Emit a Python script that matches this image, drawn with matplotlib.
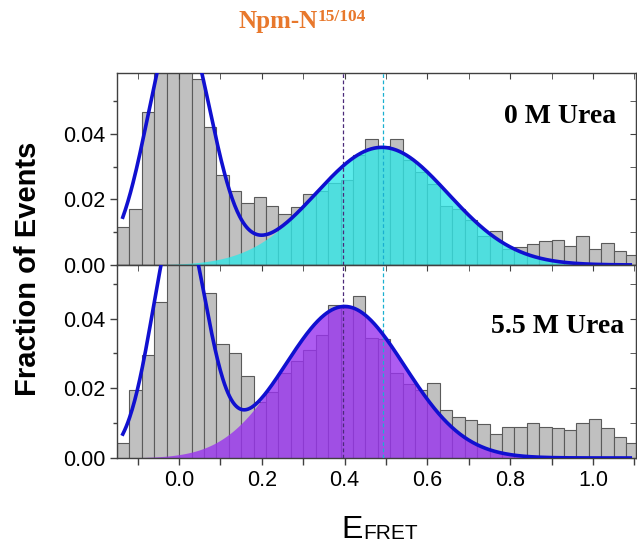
import numpy as np
import matplotlib
matplotlib.use("Agg")
import matplotlib.pyplot as plt
from matplotlib.ticker import MultipleLocator, FormatStrFormatter

plt.rcParams['font.family'] = ['Liberation Sans', 'DejaVu Sans']

# histogram bins (E_FRET), width 0.03
bin_width = 0.03
bin_left = np.round(np.arange(-0.15, 1.08 + 1e-9, bin_width), 3)

# fraction of events, 0 M urea
counts_0M = [0.0117, 0.0172, 0.0468, 0.064, 0.072, 0.068, 0.0569, 0.0422, 0.0275, 0.0226,
             0.0190, 0.0209, 0.0180, 0.0156, 0.0177, 0.0218, 0.0225, 0.0250, 0.0260, 0.0335,
             0.0385, 0.0362, 0.0385, 0.0319, 0.0284, 0.0246, 0.0179, 0.0172, 0.0138, 0.0089,
             0.0105, 0.0050, 0.0055, 0.0063, 0.0073, 0.0077, 0.0059, 0.0090, 0.0049, 0.0068,
             0.0043, 0.0029]

# fraction of events, 5.5 M urea
counts_55M = [0.0042, 0.0194, 0.0297, 0.0449, 0.066, 0.070, 0.060, 0.0475, 0.0326, 0.0300,
              0.0235, 0.0161, 0.0190, 0.0244, 0.0278, 0.0310, 0.0354, 0.0438, 0.0430, 0.0466,
              0.0345, 0.0341, 0.0244, 0.0211, 0.0194, 0.0216, 0.0137, 0.0117, 0.0108, 0.0097,
              0.0069, 0.0089, 0.0089, 0.0100, 0.0090, 0.0086, 0.0081, 0.0100, 0.0113, 0.0087,
              0.0061, 0.0042]

# two-gaussian fits: [donor-only peak, FRET peak]
fit_0M_centers = [0.0, 0.49]
fit_0M_widths = [0.075, 0.16]
fit_0M_heights = [0.0754, 0.0359]

fit_55M_centers = [0.0, 0.40]
fit_55M_widths = [0.063, 0.145]
fit_55M_heights = [0.070, 0.0435]

# mean E_FRET markers
mean_55M = 0.395
mean_0M = 0.493


def gauss(x, c, w, h):
    return h * np.exp(-(x - c) ** 2 / (2 * w ** 2))


fig = plt.figure(figsize=(6.37, 5.5), dpi=100)
ax_top = fig.add_axes([0.1837, 0.5182, 0.8148, 0.3485])
ax_bot = fig.add_axes([0.1837, 0.1673, 0.8148, 0.3509])

panels = [
    (ax_top, counts_0M, fit_0M_centers, fit_0M_widths, fit_0M_heights, '#33e6e6', 0.0585,
     '0 M Urea', 0.92, 0.0453),
    (ax_bot, counts_55M, fit_55M_centers, fit_55M_widths, fit_55M_heights, '#9933ee', 0.0554,
     '5.5 M Urea', 0.915, 0.0378),
]

xs = np.linspace(-0.136, 1.09, 600)

for ax, counts, cen, wid, hei, fcol, ymax, label, lx, ly in panels:
    ax.bar(bin_left, counts, width=bin_width, align='edge', color='#c0c0c0',
           edgecolor='#5a5a5a', linewidth=0.8, zorder=1)
    comp = gauss(xs, cen[1], wid[1], hei[1])
    ax.fill_between(xs, 0, comp, color=fcol, alpha=0.8, lw=0, zorder=2)
    total = gauss(xs, cen[0], wid[0], hei[0]) + comp
    ax.axvline(mean_55M, color='#4b2a7a', lw=0.9, ls=(0, (3, 2)), zorder=3)
    ax.axvline(mean_0M, color='#1ab0d0', lw=0.9, ls=(0, (3, 2)), zorder=3)
    ax.plot(xs, total, color='#1010d0', lw=2.6, zorder=4)

    ax.set_xlim(-0.15, 1.104)
    ax.set_ylim(0, ymax)
    ax.set_yticks([0, 0.02, 0.04])
    ax.yaxis.set_minor_locator(MultipleLocator(0.01))
    ax.yaxis.set_major_formatter(FormatStrFormatter('%.2f'))
    ax.xaxis.set_major_locator(MultipleLocator(0.2))
    ax.xaxis.set_minor_locator(MultipleLocator(0.1))
    ax.tick_params(axis='y', which='both', direction='out', labelsize=15.5,
                   width=1, color='#404040')
    ax.tick_params(axis='y', which='major', length=5)
    ax.tick_params(axis='y', which='minor', length=3)
    for s in ax.spines.values():
        s.set_color('#404040')
        s.set_linewidth(1)

    sec = ax.secondary_yaxis('right')
    sec.set_yticks([0, 0.02, 0.04])
    sec.yaxis.set_minor_locator(MultipleLocator(0.01))
    sec.tick_params(axis='y', which='both', direction='in', labelright=False,
                    color='#404040', length=4)
    sec.spines['right'].set_color('#404040')

    ax.text(lx, ly, label, ha='center', va='center',
            fontsize=20, fontweight='bold', family='Liberation Serif', zorder=5)

ax_top.tick_params(axis='x', which='both', bottom=False, labelbottom=False,
                   top=True, direction='in', length=4, color='#404040')

ax_bot.tick_params(axis='x', which='both', direction='out', labelsize=15.5,
                   length=5, width=1, color='#404040')
secx = ax_bot.secondary_xaxis('top')
secx.xaxis.set_major_locator(MultipleLocator(0.2))
secx.xaxis.set_minor_locator(MultipleLocator(0.1))
secx.tick_params(axis='x', which='both', direction='in', labeltop=False,
                 length=4, color='#404040')
secx.spines['top'].set_color('#404040')

# labels
fig.text(28 / 637, 1 - 269 / 550, 'Fraction of Events', rotation=90, ha='center',
         va='center', fontsize=21, fontweight='bold')
fig.text(363 / 637, 1 - 538 / 550, 'E', ha='right', va='baseline', fontsize=23)
fig.text(363 / 637, 1 - 539 / 550, 'FRET', ha='left', va='baseline', fontsize=15)

fig.text(318 / 637, 0.9485, 'Npm-N', ha='right', va='baseline', fontsize=18,
         fontweight='bold', family='Liberation Serif', color='#e8782c')
fig.text(318 / 637, 0.9620, '15/104', ha='left', va='baseline', fontsize=12.5,
         fontweight='bold', family='Liberation Serif', color='#e8782c')

fig.savefig('out.png', dpi=100)
